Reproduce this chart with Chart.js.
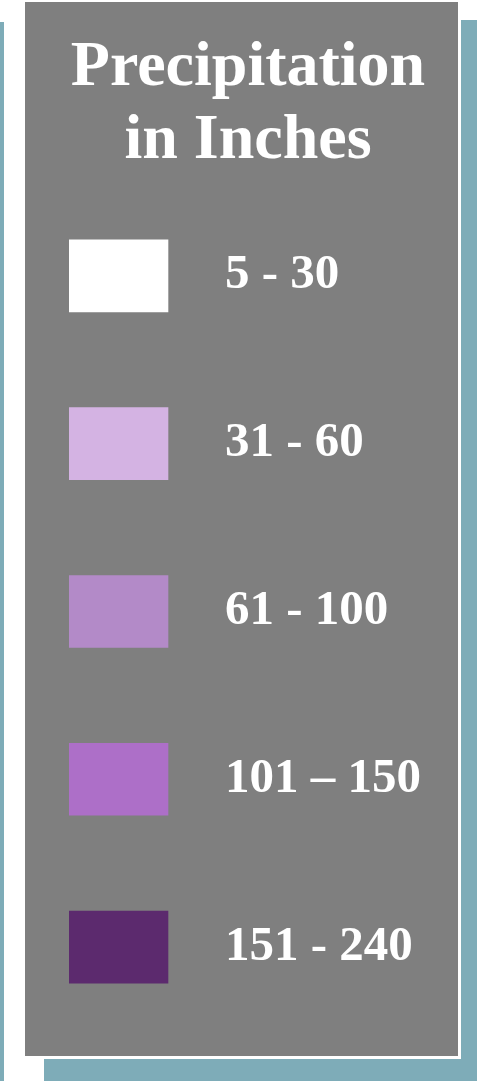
<!DOCTYPE html>
<html><head><meta charset="utf-8">
<script src="https://cdn.jsdelivr.net/npm/chart.js@4"></script>
<style>
html,body{margin:0;padding:0;background:#fff;overflow:hidden;width:477px;height:1081px}
#tealL{position:absolute;left:0;top:22px;width:4px;height:1059px;background:#7eacb8}
#tealS{position:absolute;left:44px;top:20px;width:433px;height:1061px;background:#7eacb8}
#panel{position:absolute;left:22px;top:-1px;width:433px;height:1054px;background:#7f7f7f;border:3px solid #fff}
#c{position:absolute;left:0;top:0}
</style></head><body>
<div id="tealL"></div><div id="tealS"></div><div id="panel"></div>
<canvas id="c" width="477" height="1081"></canvas>
<script>
const categories = ['5 - 30', '31 - 60', '61 - 100', '101 – 150', '151 - 240'];
const swatchValues = [1, 1, 1, 1, 1];
const swatchColors = ['#ffffff', '#d4b3e3', '#b38ac8', '#ad6fc8', '#5c2a6e'];
const titleLines = ['Precipitation', 'in Inches'];

new Chart(document.getElementById('c'), {
  type: 'bar',
  data: {
    labels: categories,
    datasets: [{
      data: swatchValues,
      backgroundColor: swatchColors,
      borderWidth: 0,
      barThickness: 72
    }]
  },
  options: {
    indexAxis: 'y',
    responsive: false,
    animation: false,
    devicePixelRatio: 1,
    layout: { padding: { left: 69, right: 50, top: 32, bottom: 50 } },
    plugins: {
      legend: { display: false },
      tooltip: { enabled: false },
      title: {
        display: true,
        text: titleLines,
        color: '#ffffff',
        font: { family: 'Liberation Serif', size: 64, weight: 'bold', lineHeight: 1.14 },
        padding: { top: 0, bottom: 14 }
      }
    },
    scales: {
      x: { display: false, min: 0, max: 1.475 },
      y: {
        position: 'right',
        grid: { display: false, drawTicks: false },
        border: { display: false },
        ticks: {
          color: '#ffffff',
          padding: 10,
          font: { family: 'Liberation Serif', size: 49, weight: 'bold' }
        },
        afterFit: (s) => { s.width = 212; }
      }
    }
  }
});
</script>
</body></html>
